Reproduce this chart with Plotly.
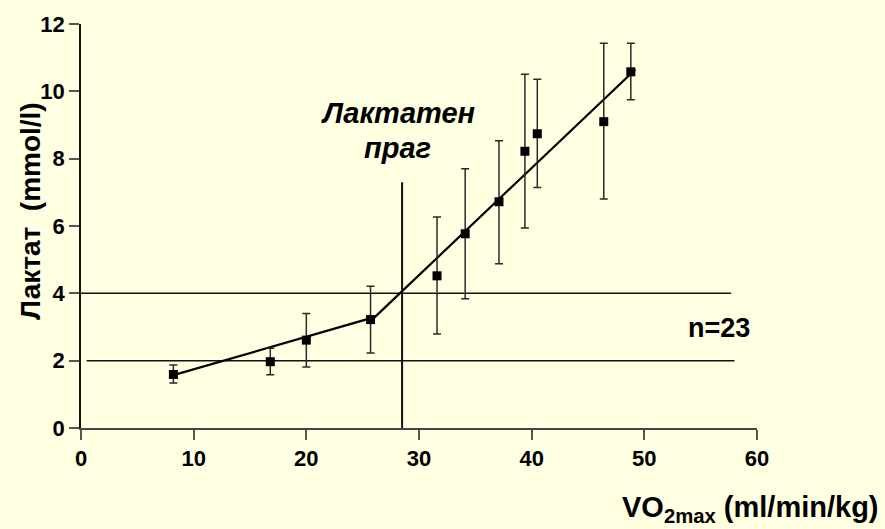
import plotly.graph_objects as go

# VO2max (ml/min/kg) and blood lactate (mmol/l), mean with spread
vo2 = [8.2, 16.8, 20.0, 25.7, 31.6, 34.1, 37.1, 39.4, 40.5, 46.4, 48.8]
lactate = [1.59, 1.97, 2.61, 3.22, 4.52, 5.77, 6.72, 8.22, 8.74, 9.10, 10.58]
lactate_hi = [1.87, 2.37, 3.40, 4.21, 6.27, 7.70, 8.53, 10.51, 10.36, 11.43, 11.43]
lactate_lo = [1.34, 1.58, 1.81, 2.23, 2.79, 3.84, 4.88, 5.94, 7.14, 6.80, 9.75]

# two-segment fitted curve
fit_x = [8.2, 26.1, 49.2]
fit_y = [1.57, 3.30, 10.65]

# lactate threshold and reference levels
threshold_x = 28.5
threshold_top = 7.3
ref_levels = [4.0, 2.0]
ref_start = [0.0, 0.5]
ref_end = [57.7, 58.0]

x_ticks = [0, 10, 20, 30, 40, 50, 60]
y_ticks = [0, 2, 4, 6, 8, 10, 12]

FONT = "Liberation Sans, Arial, sans-serif"
BG = "#FFFFE1"

err_plus = [h - v for h, v in zip(lactate_hi, lactate)]
err_minus = [v - l for v, l in zip(lactate, lactate_lo)]

fig = go.Figure()

for lvl, x0, x1 in zip(ref_levels, ref_start, ref_end):
    fig.add_trace(go.Scatter(x=[x0, x1], y=[lvl, lvl], mode="lines",
                             line=dict(color="#111111", width=1.5),
                             hoverinfo="skip", showlegend=False))

fig.add_trace(go.Scatter(x=[threshold_x, threshold_x], y=[0, threshold_top],
                         mode="lines", line=dict(color="#111111", width=2),
                         hoverinfo="skip", showlegend=False))

fig.add_trace(go.Scatter(x=fit_x, y=fit_y, mode="lines",
                         line=dict(color="#000000", width=2.2),
                         hoverinfo="skip", showlegend=False))

fig.add_trace(go.Scatter(
    x=vo2, y=lactate, mode="markers",
    marker=dict(symbol="square", size=9, color="#000000"),
    error_y=dict(type="data", symmetric=False, array=err_plus,
                 arrayminus=err_minus, color="#2a2a2a", thickness=1.5, width=4),
    showlegend=False,
))

fig.add_annotation(x=28.1, y=9.35, text="<b><i>Лактатен</i></b>", showarrow=False,
                   font=dict(family=FONT, size=29, color="#000000"))
fig.add_annotation(x=28.1, y=8.33, text="<b><i>праг</i></b>", showarrow=False,
                   font=dict(family=FONT, size=29, color="#000000"))
fig.add_annotation(x=56.6, y=2.98, text="<b>n=23</b>", showarrow=False,
                   font=dict(family=FONT, size=27, color="#000000"))

fig.add_annotation(xref="paper", yref="paper", x=-0.076, y=0.537,
                   xanchor="center", yanchor="middle",
                   text="<b>Лактат  (mmol/l)</b>", textangle=-90, showarrow=False,
                   font=dict(family=FONT, size=28, color="#000000"))
fig.add_annotation(xref="paper", yref="paper", x=1.183, y=-0.2,
                   xanchor="right", yanchor="middle",
                   text="<b>VO<sub>2max</sub> (ml/min/kg)</b>", showarrow=False,
                   font=dict(family=FONT, size=29, color="#000000"))

fig.update_layout(
    width=885, height=529,
    margin=dict(l=81, r=128, t=16, b=101),
    paper_bgcolor=BG, plot_bgcolor=BG,
    font=dict(family=FONT, color="#000000"),
    showlegend=False,
)
fig.update_xaxes(range=[0, 60], tickvals=x_ticks, showgrid=False, zeroline=False,
                 showline=True, linecolor="#444444", linewidth=1.5,
                 ticks="outside", ticklen=10, tickwidth=1.5, tickcolor="#555555",
                 tickfont=dict(family=FONT, size=22, color="#000000", weight="bold"))
fig.update_yaxes(range=[0, 12], tickvals=y_ticks, showgrid=False, zeroline=False,
                 showline=True, linecolor="#111111", linewidth=1.5,
                 ticks="outside", ticklen=10, tickwidth=1.5, tickcolor="#555555",
                 tickfont=dict(family=FONT, size=22, color="#000000", weight="bold"))

fig.write_html("out.html")
